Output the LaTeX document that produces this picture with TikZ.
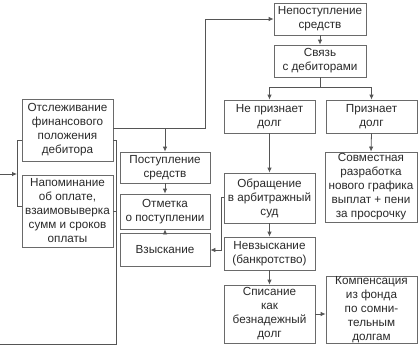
\documentclass[tikz,border=0pt]{standalone}
\usepackage{fontspec}
\setmainfont{Liberation Sans}
\usetikzlibrary{arrows.meta}
\definecolor{txt}{HTML}{2A2A2A}
\definecolor{ln}{HTML}{555555}
\definecolor{bd}{HTML}{6A6A6A}
\begin{document}
\begin{tikzpicture}[x=1pt,y=-1pt,
  box/.style={draw=bd,line width=0.8pt,fill=white,text=txt,align=center,inner sep=0pt,
    font=\fontsize{11.7}{14}\selectfont},
  conn/.style={draw=ln,line width=0.8pt},
  arr/.style={conn,-{Latex[length=5pt,width=4.5pt]}}]
\useasboundingbox (0,0) rectangle (419,346);
% boxes
\node[box,minimum width=91pt,minimum height=62pt] (otsl) at (67.5,130) {Отслеживание\\финансового\\положения\\дебитора};
\node[box,minimum width=91pt,minimum height=72pt] (napom) at (67.5,211) {Напоминание\\об оплате,\\взаимовыверка\\сумм и сроков\\оплаты};
\node[box,minimum width=90pt,minimum height=31pt] (post) at (165,167.5) {Поступление\\средств};
\node[box,minimum width=90pt,minimum height=35pt] (otm) at (165,211.5) {Отметка\\о поступлении};
\node[box,minimum width=90pt,minimum height=33pt] (vzysk) at (165,249.5) {Взыскание};
\node[box,minimum width=92pt,minimum height=32pt] (nepost) at (320,19) {Непоступление\\средств};
\node[box,minimum width=92pt,minimum height=32pt] (svyaz) at (320,61) {Связь\\с дебиторами};
\node[box,minimum width=91pt,minimum height=33pt] (nepriz) at (269.5,116.5) {Не признает\\долг};
\node[box,minimum width=91pt,minimum height=33pt] (priz) at (371.5,116.5) {Признает\\долг};
\node[box,minimum width=92pt,minimum height=70pt] (sovm) at (371,187) {Совместная\\разработка\\нового графика\\выплат + пени\\за просрочку};
\node[box,minimum width=91pt,minimum height=50pt] (obr) at (269.5,198) {Обращение\\в арбитражный\\суд};
\node[box,minimum width=91pt,minimum height=33pt] (nevz) at (269.5,253.5) {Невзыскание\\(банкротство)};
\node[box,minimum width=91pt,minimum height=58pt] (spis) at (269.5,314) {Списание\\как\\безнадежный\\долг};
\node[box,minimum width=91pt,minimum height=67pt] (komp) at (371.5,309.5) {Компенсация\\из фонда\\по сомни-\\тельным\\долгам};
% junction coordinates
\coordinate (jtop) at (205,128);
\coordinate (jpost) at (165,128);
\coordinate (jsv) at (320,87);
\coordinate (jl) at (269.5,87);
\coordinate (jr) at (371.5,87);
\coordinate (bl1) at (17,140);
\coordinate (bl2) at (17,206);
\coordinate (br1) at (116,140);
\coordinate (br2) at (116,344);
\coordinate (bend) at (0,344);
\coordinate (ain) at (0,174);
\coordinate (ajoin) at (17,174);
\coordinate (ob1) at (221,197);
\coordinate (ob2) at (221,250);
% connectors
\draw[arr] (otsl.east |- jtop) -- (jtop) |- (nepost.west);
\draw[arr] (jpost) -- (post.north);
\draw[arr] (post.south) -- (otm.north);
\draw[arr] (vzysk.north) -- (otm.south);
\draw[arr] (nepost.south) -- (svyaz.north);
\draw[conn] (svyaz.south) -- (jsv);
\draw[conn] (jl) -- (jr);
\draw[arr] (jl) -- (nepriz.north);
\draw[arr] (jr) -- (priz.north);
\draw[arr] (nepriz.south) -- (obr.north);
\draw[arr] (priz.south) -- (sovm.north);
\draw[arr] (obr.south) -- (nevz.north);
\draw[arr] (nevz.south) -- (spis.north);
\draw[arr] (spis.east) -- (komp.west |- spis.east);
\draw[arr] (obr.west |- ob1) -- (ob1) -- (ob2) -- (vzysk.east |- ob2);
% left bracket and feedback loop
\draw[conn] (otsl.west |- bl1) -- (bl1) -- (bl2) -- (napom.west |- bl2);
\draw[conn] (otsl.east |- br1) -- (br1) -- (br2) -- (bend);
\draw[conn] (napom.east |- 0,211) -- (116,211);
\draw[arr] (ain) -- (ajoin);
\end{tikzpicture}
\end{document}
